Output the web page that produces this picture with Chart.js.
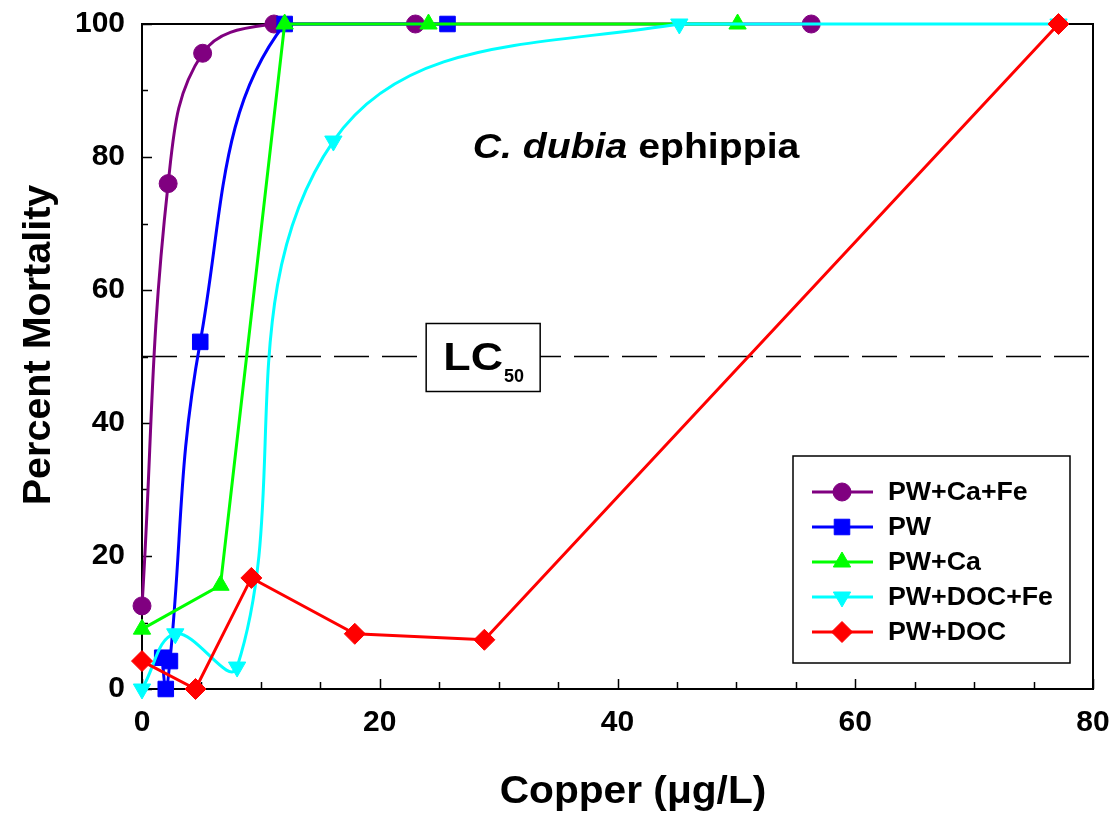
<!DOCTYPE html>
<html>
<head>
<meta charset="utf-8">
<title>C. dubia ephippia</title>
<script src="https://cdn.jsdelivr.net/npm/chart.js@4"></script>
<style>
  html, body { margin: 0; padding: 0; background: #fff; }
  #wrap { width: 1115px; height: 813px; }
</style>
</head>
<body>
<div id="wrap"><canvas id="chart" width="1115" height="813"></canvas></div>
<script>
// Data: copper (ug/L) vs percent mortality
const cuCaFe = [0, 2.2, 5.1, 11.1, 23.0, 56.3];
const mortCaFe = [12.5, 76, 95.6, 100, 100, 100];

const cuPW = [1.7, 2.0, 2.35, 4.9, 12.0, 25.7];
const mortPW = [4.7, 0, 4.2, 52.2, 100, 100];

const cuCa = [0, 6.6, 12.0, 24.1, 50.1];
const mortCa = [9, 15.6, 100, 100, 100];

const cuDocFe = [0, 2.8, 8.0, 16.1, 45.2, 77.1];
const mortDocFe = [0, 8.3, 3.3, 82.4, 100, 100];

const cuDoc = [0, 4.5, 9.2, 17.9, 28.8, 77.1];
const mortDoc = [4.2, 0, 16.7, 8.3, 7.4, 100];

const lc50 = 50;
const xTickLabels = [0, 20, 40, 60, 80];
const yTickLabels = [0, 20, 40, 60, 80, 100];

const FONT = "'Liberation Sans', Arial, Helvetica, sans-serif";

function pts(xs, ys) { return xs.map((v, i) => ({ x: v, y: ys[i] })); }

const series = [
  { label: 'PW+Ca+Fe', color: '#800080', style: 'circle', r: 9, rot: 0, xs: cuCaFe, ys: mortCaFe, tension: 0.4, order: 5 },
  { label: 'PW', color: '#0000ff', style: 'rect', r: 11, rot: 0, xs: cuPW, ys: mortPW, tension: 0.4, order: 4 },
  { label: 'PW+Ca', color: '#00ff00', style: 'triangle', r: 10, rot: 0, xs: cuCa, ys: mortCa, tension: 0, order: 3 },
  { label: 'PW+DOC+Fe', color: '#00ffff', style: 'triangle', r: 10, rot: 180, xs: cuDocFe, ys: mortDocFe, tension: 0.4, order: 2 },
  { label: 'PW+DOC', color: '#ff0000', style: 'rectRot', r: 10.5, rot: 0, xs: cuDoc, ys: mortDoc, tension: 0, order: 1 }
];

const datasets = series.map(s => ({
  label: s.label,
  data: pts(s.xs, s.ys),
  showLine: true,
  borderColor: s.color,
  backgroundColor: s.color,
  borderWidth: 3,
  tension: s.tension,
  pointStyle: s.style,
  pointRadius: s.r,
  pointRotation: s.rot,
  pointBorderWidth: 1,
  pointBackgroundColor: s.color,
  pointBorderColor: s.color,
  clip: false,
  order: s.order
}));

datasets.push({
  label: 'LC50',
  data: [{ x: 0, y: lc50 }, { x: 80, y: lc50 }],
  showLine: true,
  borderColor: '#000',
  borderWidth: 1.5,
  borderDash: [35, 13],
  pointRadius: 0,
  order: 6
});

// text squeezed/stretched horizontally to match the original lettering
function wideText(ctx, txt, x, y, sx) {
  ctx.save();
  ctx.translate(x, y);
  ctx.scale(sx, 1);
  ctx.fillText(txt, 0, 0);
  ctx.restore();
}

// frame, inward ticks, titles, legend, LC50 box
const decor = {
  id: 'decor',
  beforeDatasetsDraw(chart) {
    const { ctx, chartArea: a, scales: { x, y } } = chart;
    ctx.save();
    ctx.strokeStyle = '#000';
    ctx.lineWidth = 2;
    ctx.strokeRect(a.left, a.top, a.right - a.left, a.bottom - a.top);
    ctx.lineWidth = 1.5;
    ctx.beginPath();
    y.ticks.forEach(t => {
      const py = Math.round(y.getPixelForValue(t.value)) + 0.5;
      const len = yTickLabels.includes(t.value) ? 10 : 6;
      ctx.moveTo(a.left, py); ctx.lineTo(a.left + len, py);
    });
    x.ticks.forEach(t => {
      const px = Math.round(x.getPixelForValue(t.value)) + 0.5;
      const len = xTickLabels.includes(t.value) ? 10 : 7;
      ctx.moveTo(px, a.bottom); ctx.lineTo(px, a.bottom - len);
    });
    ctx.stroke();
    ctx.restore();
  },
  afterDatasetsDraw(chart) {
    const { ctx, scales: { x, y } } = chart;
    ctx.save();
    // LC50 box
    const cx = x.getPixelForValue(28.7), cy = y.getPixelForValue(lc50);
    const bw = 114, bh = 68;
    ctx.fillStyle = '#fff';
    ctx.fillRect(cx - bw / 2, cy - bh / 2 + 1, bw, bh);
    ctx.strokeStyle = '#000';
    ctx.lineWidth = 1.5;
    ctx.strokeRect(cx - bw / 2, cy - bh / 2 + 1, bw, bh);
    ctx.fillStyle = '#000';
    ctx.textBaseline = 'alphabetic';
    ctx.textAlign = 'left';
    const sx = 1.18;
    ctx.font = 'bold 38px ' + FONT;
    const lcW = ctx.measureText('LC').width * sx;
    ctx.font = 'bold 18px ' + FONT;
    const subW = ctx.measureText('50').width;
    const x0 = cx - (lcW + subW) / 2;
    ctx.font = 'bold 38px ' + FONT;
    wideText(ctx, 'LC', x0, cy + 13, sx);
    ctx.font = 'bold 18px ' + FONT;
    ctx.fillText('50', x0 + lcW + 1, cy + 25);
    ctx.restore();
  },
  afterDraw(chart) {
    const { ctx } = chart;
    ctx.save();
    ctx.fillStyle = '#000';

    // axis titles
    ctx.font = 'bold 38px ' + FONT;
    ctx.textAlign = 'center';
    ctx.textBaseline = 'middle';
    wideText(ctx, 'Copper (\u03bcg/L)', 633, 793, 1.07);
    ctx.save();
    ctx.translate(40, 345);
    ctx.rotate(-Math.PI / 2);
    wideText(ctx, 'Percent Mortality', 0, 0, 1.04);
    ctx.restore();

    // inner title, italic species name
    ctx.textAlign = 'left';
    ctx.textBaseline = 'alphabetic';
    const tsx = 1.12;
    const p1 = 'C. dubia', p2 = ' ephippia';
    ctx.font = 'italic bold 35px ' + FONT;
    const w1 = ctx.measureText(p1).width * tsx;
    ctx.font = 'bold 35px ' + FONT;
    const w2 = ctx.measureText(p2).width * tsx;
    const tx = 636 - (w1 + w2) / 2;
    ctx.font = 'italic bold 35px ' + FONT;
    wideText(ctx, p1, tx, 158, tsx);
    ctx.font = 'bold 35px ' + FONT;
    wideText(ctx, p2, tx + w1, 158, tsx);

    // legend box
    ctx.strokeStyle = '#000';
    ctx.lineWidth = 1.5;
    ctx.fillStyle = '#fff';
    ctx.fillRect(793, 456, 277, 207);
    ctx.strokeRect(793, 456, 277, 207);
    ctx.font = 'bold 25px ' + FONT;
    ctx.textBaseline = 'middle';
    series.forEach((s, i) => {
      const ry = 492 + i * 35;
      ctx.strokeStyle = s.color;
      ctx.lineWidth = 3;
      ctx.beginPath();
      ctx.moveTo(812, ry); ctx.lineTo(873, ry);
      ctx.stroke();
      ctx.fillStyle = s.color;
      ctx.lineWidth = 1;
      Chart.helpers.drawPoint(ctx, { pointStyle: s.style, radius: s.r, rotation: s.rot, borderWidth: 1 }, 842, ry);
      ctx.fillStyle = '#000';
      wideText(ctx, s.label, 888, ry + 1, 1.07);
    });
    ctx.restore();
  }
};

new Chart(document.getElementById('chart'), {
  type: 'scatter',
  data: { datasets },
  plugins: [decor],
  options: {
    responsive: false,
    animation: false,
    events: [],
    layout: { padding: { top: 24, right: 22, left: 0, bottom: 0 } },
    plugins: { legend: { display: false }, tooltip: { enabled: false } },
    scales: {
      x: {
        type: 'linear', min: 0, max: 80,
        afterFit(scale) { scale.height = 124; scale.paddingLeft = 0; scale.paddingRight = 0; },
        grid: { display: false, drawTicks: false },
        border: { display: false },
        ticks: {
          stepSize: 5, autoSkip: false, maxRotation: 0, padding: 16,
          color: '#000', font: { family: FONT, size: 30, weight: 'bold' },
          callback: v => xTickLabels.includes(v) ? String(v) : ''
        }
      },
      y: {
        type: 'linear', min: 0, max: 100,
        afterFit(scale) { scale.width = 142; scale.paddingTop = 0; scale.paddingBottom = 0; },
        grid: { display: false, drawTicks: false },
        border: { display: false },
        ticks: {
          stepSize: 10, autoSkip: false, padding: 17,
          color: '#000', font: { family: FONT, size: 30, weight: 'bold' },
          callback: v => yTickLabels.includes(v) ? String(v) : ''
        }
      }
    }
  }
});
</script>
</body>
</html>
